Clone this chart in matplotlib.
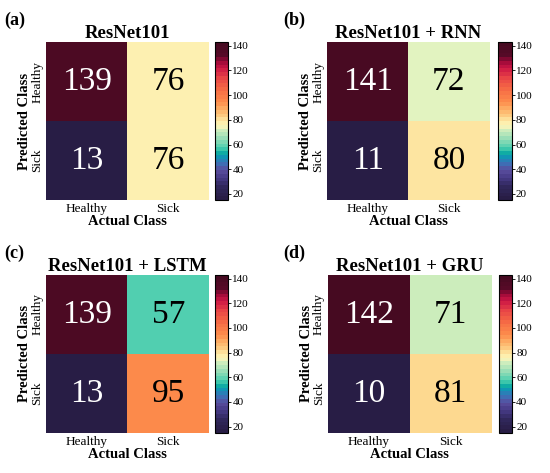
import numpy as np
import matplotlib
matplotlib.use("Agg")
import matplotlib.pyplot as plt
import matplotlib.cm as mcm
from matplotlib.colors import LinearSegmentedColormap, ListedColormap, Normalize

# confusion matrices, rows = predicted (Healthy, Sick), cols = actual (Healthy, Sick)
titles = ["ResNet101", "ResNet101 + RNN", "ResNet101 + LSTM", "ResNet101 + GRU"]
panel_tags = ["(a)", "(b)", "(c)", "(d)"]
cm_resnet = [[139, 76], [13, 76]]
cm_rnn = [[141, 72], [11, 80]]
cm_lstm = [[139, 57], [13, 95]]
cm_gru = [[142, 71], [10, 81]]
class_names = ["Healthy", "Sick"]
cbar_ticks = [20, 40, 60, 80, 100, 120, 140]

VMIN, VMAX = 15, 143

# spectral-like map with dark ends (value -> colour)
anchor_vals = [15, 24, 32, 38, 44, 49, 53, 57, 64, 71, 72.5, 76, 80, 81.5, 88, 95, 105, 115, 123, 129, 134, 143]
anchor_cols = ["#281d45", "#30275a", "#463a86", "#5a4d9e", "#3a72b8", "#1194b5", "#10b3a0",
               "#50cfb0", "#95dcb6", "#c8ecbc", "#e8f5c2", "#fdf1b2", "#fde9a6", "#fdd68c",
               "#fdb46a", "#fd8c4c", "#f66c45", "#e84446", "#cc1745", "#9a0838", "#560a27",
               "#460a21"]
anchors = [((v - VMIN) / (VMAX - VMIN), c) for v, c in zip(anchor_vals, anchor_cols)]
cmap = LinearSegmentedColormap.from_list("spec_dark", anchors, N=256)
cmap_steps = ListedColormap(cmap(np.linspace(0, 1, 42)))
norm = Normalize(VMIN, VMAX)

plt.rcParams["font.family"] = ["Liberation Serif", "DejaVu Serif"]

fig = plt.figure(figsize=(5.5, 4.73), dpi=100)

# [left, bottom, width, height] in figure fraction
heat_pos = [
    [0.084, 0.577, 0.296, 0.334],
    [0.595, 0.577, 0.295, 0.334],
    [0.084, 0.085, 0.296, 0.334],
    [0.596, 0.085, 0.298, 0.334],
]
cbar_pos = [
    [0.391, 0.577, 0.024, 0.334],
    [0.906, 0.577, 0.024, 0.334],
    [0.391, 0.085, 0.024, 0.334],
    [0.907, 0.085, 0.024, 0.334],
]
tag_pos = [(0.008, 0.957), (0.515, 0.957), (0.008, 0.464), (0.515, 0.464)]

mats = [cm_resnet, cm_rnn, cm_lstm, cm_gru]

for i, m in enumerate(mats):
    m = np.array(m)
    ax = fig.add_axes(heat_pos[i])
    ax.imshow(m, cmap=cmap, norm=norm, aspect="auto")
    for r in range(2):
        for c in range(2):
            v = m[r, c]
            col = "white" if v < 30 or v > 120 else "black"
            ax.text(c, r, str(v), ha="center", va="center", fontsize=24, color=col)
    ax.set_xticks([0, 1])
    ax.set_xticklabels(class_names, fontsize=9.5)
    ax.set_yticks([0, 1])
    ax.set_yticklabels(class_names, fontsize=9.5, rotation=90, va="center")
    ax.tick_params(length=0, pad=2)
    for s in ax.spines.values():
        s.set_visible(False)
    ax.set_xlabel("Actual Class", fontsize=10.5, fontweight="bold", labelpad=0)
    ax.set_ylabel("Predicted Class", fontsize=10.5, fontweight="bold", labelpad=0)
    ax.set_title(titles[i], fontsize=13.5, fontweight="bold", pad=3)

    cax = fig.add_axes(cbar_pos[i])
    sm = mcm.ScalarMappable(norm=norm, cmap=cmap_steps)
    cb = fig.colorbar(sm, cax=cax, ticks=cbar_ticks)
    cb.ax.tick_params(labelsize=8, length=2, width=0.6, pad=1)
    cb.outline.set_linewidth(0.8)

    fig.text(tag_pos[i][0], tag_pos[i][1], panel_tags[i], fontsize=13,
             fontweight="bold", ha="left", va="center")

fig.savefig("out.png", dpi=100)
